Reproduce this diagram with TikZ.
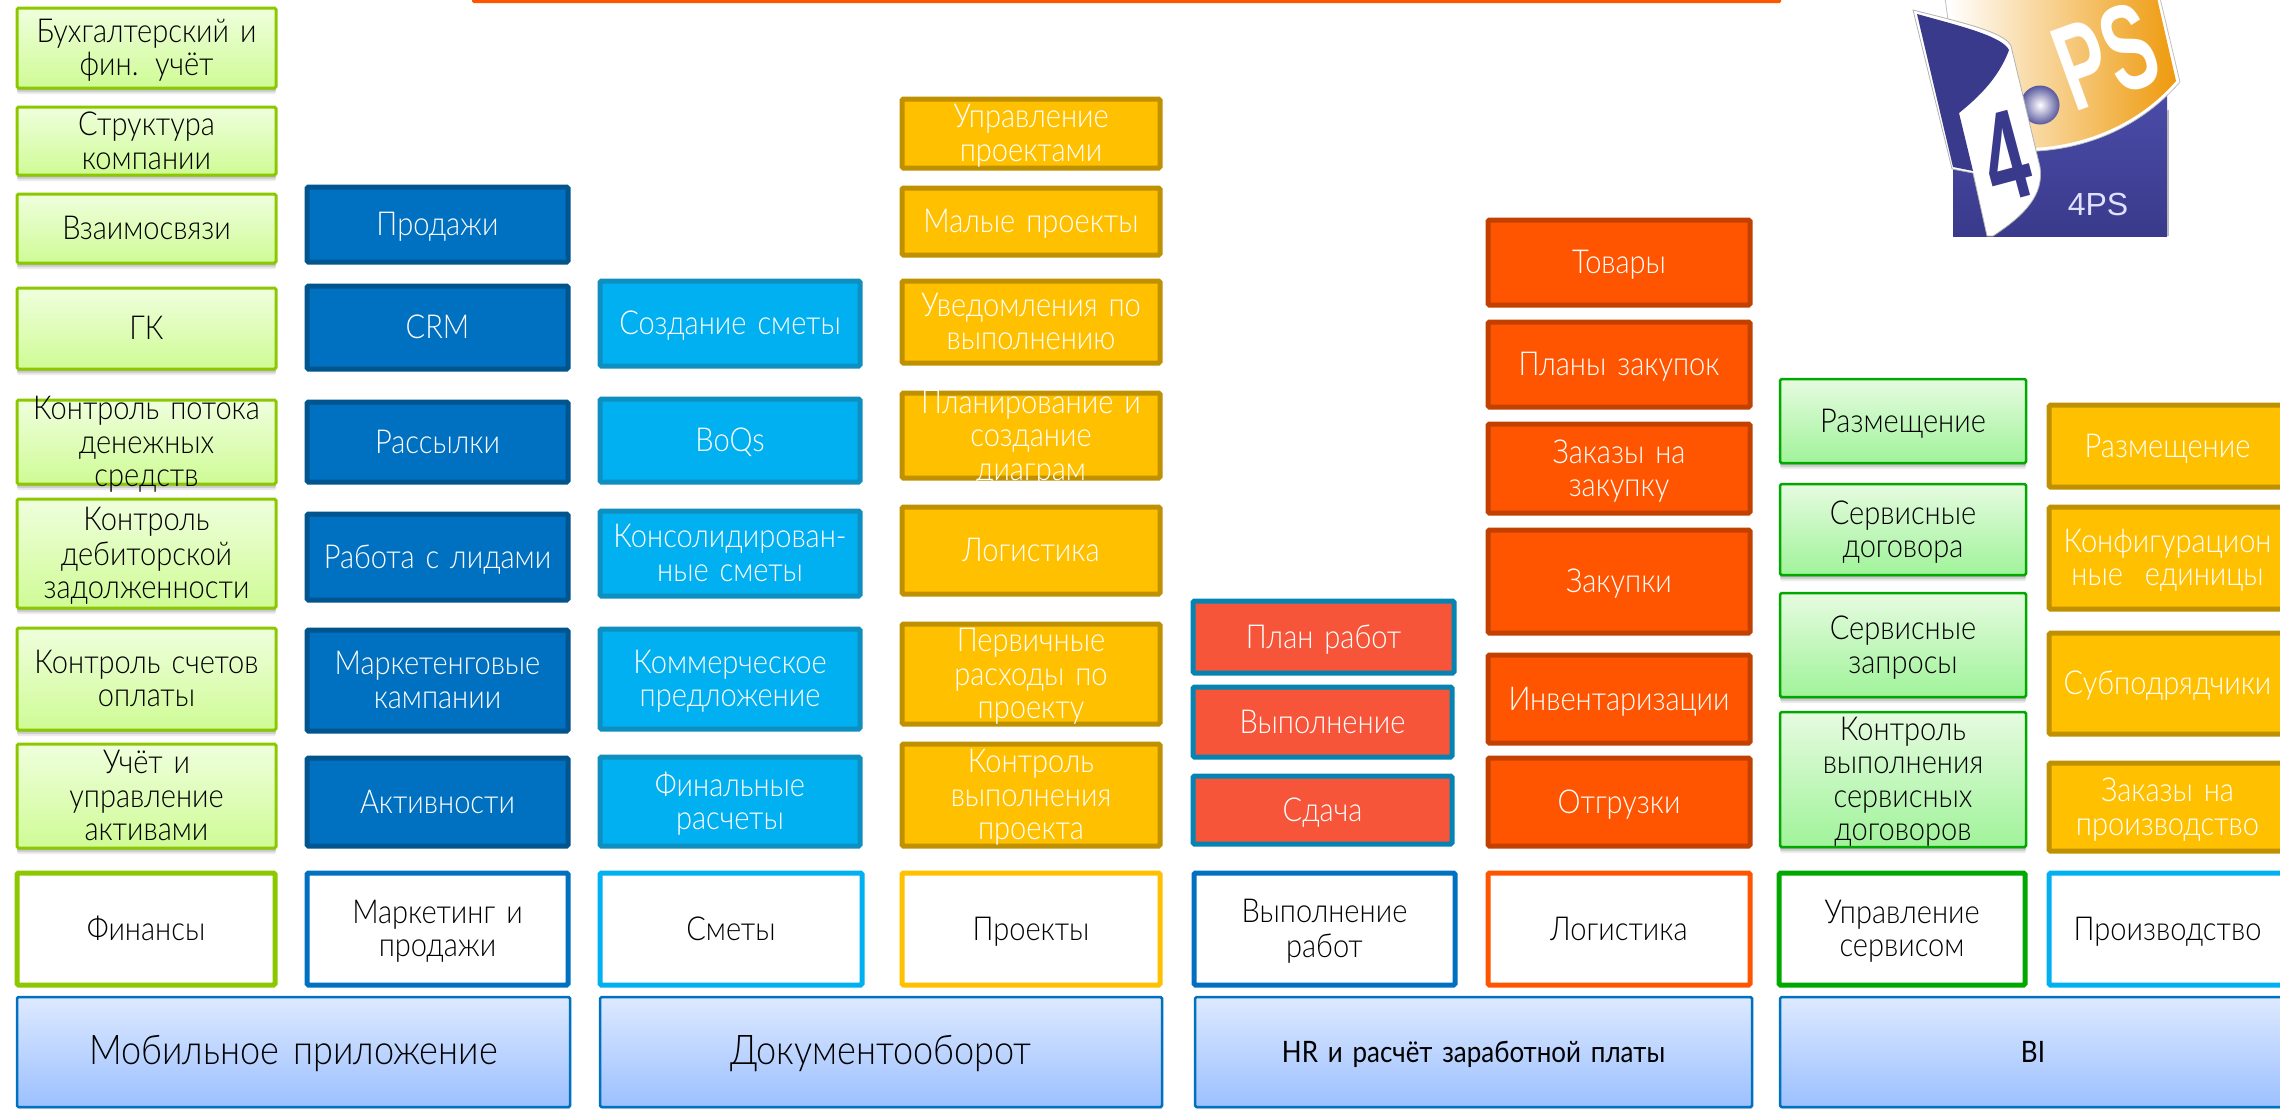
\documentclass[tikz,border=0pt]{standalone}
\usepackage{fontspec}
\setmainfont{Lato}[UprightFont=* Light,BoldFont=* Regular,FakeStretch=0.88,WordSpace=0.45]
\newfontfamily\logofont{Liberation Sans}
\newfontfamily\logobold{Liberation Sans Bold}[FakeStretch=.6]
\usetikzlibrary{shadows,calc}
\definecolor{gb}{HTML}{8CC800}
\definecolor{db}{HTML}{0070C0}
\definecolor{dbb}{HTML}{00558F}
\definecolor{lb}{HTML}{00B0F0}
\definecolor{lbb}{HTML}{0E8FBF}
\definecolor{am}{HTML}{FFC000}
\definecolor{amb}{HTML}{BF9000}
\definecolor{tom}{HTML}{F65539}
\definecolor{tomb}{HTML}{0583B2}
\definecolor{or}{HTML}{FF5500}
\definecolor{orb}{HTML}{C24100}
\definecolor{sg}{HTML}{00A800}
\definecolor{logoB}{HTML}{3A3A8C}
\definecolor{logoBt}{HTML}{4A4CA8}
\definecolor{logoO}{HTML}{EE9A0C}
% box node plus its label node
\newcommand{\bx}[7]{\node[#6,minimum width={(#4)-(#2)},minimum height={(#5)-(#3)}] (#1) at ({((#2)+(#4))/2},{((#3)+(#5))/2}) {};
 \node[lbl,text=\tc] (#1t) at ($(#1.center)+(0,4.5)$) {#7};}
\newcommand{\bxb}[8]{\node[#6,minimum width={(#4)-(#2)},minimum height={(#5)-(#3)}] (#1) at ({((#2)+(#4))/2},{((#3)+(#5))/2}) {};
 \node[lbl,text=black,text width=530pt,font=\fontsize{#7}{#7}\selectfont] (#1t) at ($(#1.center)+(0,4)$) {#8};}
\newcommand{\tc}{black}
\tikzset{
 wh/.style={/utils/exec={\gdef\tc{white}}},
 bk/.style={/utils/exec={\gdef\tc{black}}},
 base/.style={rectangle,rounded corners=1.5pt,inner sep=0pt,anchor=center},
 lbl/.style={align=center,inner sep=0pt,anchor=center,text width=270pt,font=\fontsize{33}{33.5}\selectfont,
  execute at begin node=\strut,execute at end node=\strut},
 sh/.style={
  general shadow={shadow yshift=-2pt,opacity=.14,fill=black},
  general shadow={shadow yshift=-4pt,opacity=.12,fill=black},
  general shadow={shadow yshift=-6pt,opacity=.08,fill=black}},
 fin/.style={base,bk,draw=gb,line width=3pt,sh,top color=finT,bottom color=finB},
 mkt/.style={base,wh,draw=dbb,line width=5pt,fill=db},
 sm/.style={base,wh,draw=lbb,line width=5pt,fill=lb},
 prj/.style={base,wh,draw=amb,line width=5pt,fill=am},
 wrk/.style={base,wh,draw=tomb,line width=5pt,fill=tom},
 lgs/.style={base,wh,draw=orb,line width=5pt,fill=or},
 srv/.style={base,bk,draw=sg,line width=2.5pt,sh,top color=srvT,bottom color=srvB},
 hd/.style={base,bk,fill=white,line width=5pt},
 low/.style={base,draw=db,line width=2.5pt,top color=lowT,bottom color=lowB,
  general shadow={shadow yshift=-2pt,shadow xshift=1pt,opacity=.15,fill=black}},
}
\definecolor{finT}{HTML}{EFFFDD}
\definecolor{finB}{HTML}{CFFB95}
\definecolor{srvT}{HTML}{E6FBE0}
\definecolor{srvB}{HTML}{A0F39A}
\definecolor{lowT}{HTML}{DDE9FF}
\definecolor{lowB}{HTML}{9CC0FF}
\begin{document}
\begin{tikzpicture}[x=1pt,y=-1pt]
\useasboundingbox (0,0) rectangle (2280,1109);
\fill[or,rounded corners=1.5pt] (472,-5) rectangle (1781,3);
% column 1
\bx{f1}{17}{8}{276}{88}{fin}{Бухгалтерский и\\фин. учёт}
\bx{f2}{17}{107}{276}{175}{fin}{Структура\\компании}
\bx{f3}{17}{194}{276}{263}{fin}{Взаимосвязи}
\bx{f4}{17}{288}{276}{369}{fin}{ГК}
\bx{f5}{17}{400}{276}{484}{fin}{Контроль потока\\денежных\\средств}
\bx{f6}{17}{499}{276}{608}{fin}{Контроль\\дебиторской\\задолженности}
\bx{f7}{17}{628}{276}{730}{fin}{Контроль счетов\\оплаты}
\bx{f8}{17}{744}{276}{848}{fin}{Учёт и\\управление\\активами}
% column 2
\bx{m1}{307}{187}{568}{262}{mkt}{Продажи}
\bx{m2}{307}{286}{568}{369}{mkt}{CRM}
\bx{m3}{307}{402}{568}{482}{mkt}{Рассылки}
\bx{m4}{307}{514}{568}{600}{mkt}{Работа с лидами}
\bx{m5}{307}{630}{568}{731}{mkt}{Маркетенговые\\кампании}
\bx{m6}{307}{758}{568}{846}{mkt}{Активности}
% column 3
\bx{s1}{600}{281}{860}{366}{sm}{Создание сметы}
\bx{s2}{600}{399}{860}{482}{sm}{BoQs}
\bx{s3}{600}{511}{860}{596}{sm}{Консолидирован-\\ные сметы}
\bx{s4}{600}{629}{860}{729}{sm}{Коммерческое\\предложение}
\bx{s5}{600}{757}{860}{846}{sm}{Финальные\\расчеты}
% column 4
\bx{p1}{902}{99}{1160}{168}{prj}{Управление\\проектами}
\bx{p2}{902}{188}{1160}{255}{prj}{Малые проекты}
\bx{p3}{902}{281}{1160}{363}{prj}{Уведомления по\\выполнению}
\bx{p4}{902}{393}{1160}{478}{prj}{Планирование и\\создание\\диаграм}
\bx{p5}{902}{507}{1160}{594}{prj}{Логистика}
\bx{p6}{902}{624}{1160}{724}{prj}{Первичные\\расходы по\\проекту}
\bx{p7}{902}{744}{1160}{846}{prj}{Контроль\\выполнения\\проекта}
% column 5
\bx{w1}{1193}{601}{1454}{673}{wrk}{План работ}
\bx{w2}{1193}{687}{1452}{757}{wrk}{Выполнение}
\bx{w3}{1193}{776}{1452}{844}{wrk}{Сдача}
% column 6
\bx{l1}{1488}{220}{1750}{305}{lgs}{Товары}
\bx{l2}{1488}{322}{1750}{407}{lgs}{Планы закупок}
\bx{l3}{1488}{424}{1750}{513}{lgs}{Заказы на\\закупку}
\bx{l4}{1488}{530}{1750}{633}{lgs}{Закупки}
\bx{l5}{1488}{655}{1750}{743}{lgs}{Инвентаризации}
\bx{l6}{1488}{758}{1750}{846}{lgs}{Отгрузки}
% column 7
\bx{v1}{1780}{379}{2026}{463}{srv}{Размещение}
\bx{v2}{1780}{484}{2026}{575}{srv}{Сервисные\\договора}
\bx{v3}{1780}{593}{2026}{697}{srv}{Сервисные\\запросы}
\bx{v4}{1780}{712}{2026}{847}{srv}{Контроль\\выполнения\\сервисных\\договоров}
% column 8
\bx{r1}{2049}{405}{2286}{487}{prj}{Размещение}
\bx{r2}{2049}{507}{2286}{609}{prj}{Конфигурацион\\ные\ \ единицы}
\bx{r3}{2049}{633}{2286}{734}{prj}{Субподрядчики}
\bx{r4}{2049}{763}{2286}{851}{prj}{Заказы на\\производство}
% headers
\bx{h1}{17}{873}{275}{985}{hd,draw=gb}{Финансы}
\bx{h2}{307}{873}{568}{985}{hd,draw=db}{Маркетинг и\\продажи}
\bx{h3}{600}{873}{862}{985}{hd,draw=lb}{Сметы}
\bx{h4}{902}{873}{1160}{985}{hd,draw=am}{Проекты}
\bx{h5}{1194}{873}{1455}{985}{hd,draw=db}{Выполнение\\работ}
\bx{h6}{1488}{873}{1750}{985}{hd,draw=or}{Логистика}
\bx{h7}{1779}{873}{2025}{985}{hd,draw=sg}{Управление\\сервисом}
\bx{h8}{2049}{873}{2286}{985}{hd,draw=lb}{Производство}
% bottom band
\bxb{b1}{17}{997}{570}{1107}{low}{41}{Мобильное приложение}
\bxb{b2}{600}{997}{1162}{1107}{low}{41}{Документооборот}
\bxb{b3}{1195}{997}{1752}{1107}{low}{29.5}{\bfseries HR и расчёт заработной платы}
\bxb{b4}{1780}{997}{2286}{1107}{low}{29.5}{\bfseries BI}
% logo
\begin{scope}
\shade[top color=logoBt,bottom color=logoB] (1953,90) rectangle (2167,236);
\fill[gray!55] (2167,110) rectangle (2168.5,236);
% orange flag
\path[draw=gray!50,fill=white,line width=.8pt] (1945,-2) -- (1948,20) -- (2000,150) .. controls (2040,155) and (2120,150) .. (2180,82) -- (2160,-2) -- cycle;
\shade[left color=white,right color=logoO] (1948,-2) -- (1953,20) -- (2000,147) .. controls (2040,152) and (2120,145) .. (2176,81) -- (2157,-2) -- cycle;
% ball
\shade[inner color=white,outer color=logoB!85!white] (2040,105) circle (19.5);
% page with the navy top
\path[draw=gray!60,fill=white,line width=.8pt] (1913,10) .. controls (1960,22) and (2005,32) .. (2011,46) -- (2040,167) .. controls (2044,195) and (2025,215) .. (1993,236) -- (1987,236) -- (1973,173) -- (1952,169) -- cycle;
\fill[logoB] (1917,14) .. controls (1960,26) and (2002,36) .. (2009,50) .. controls (1998,80) and (1975,100) .. (1959,113) -- (1973,171) -- (1953,167) -- cycle;
\node[font=\fontsize{122}{122}\logobold\selectfont,text=white,rotate=20,inner sep=0pt] (lgps) at (2106,56) {PS};
\node[font=\fontsize{128}{128}\logobold\selectfont,text=logoB,rotate=15,inner sep=0pt] (lg4) at (2006,156) {4};
\node[font=\fontsize{32}{32}\logofont\selectfont,text=white!88!blue,inner sep=0pt] (lgt) at (2098,204) {4PS};
\end{scope}
\end{tikzpicture}
\end{document}
